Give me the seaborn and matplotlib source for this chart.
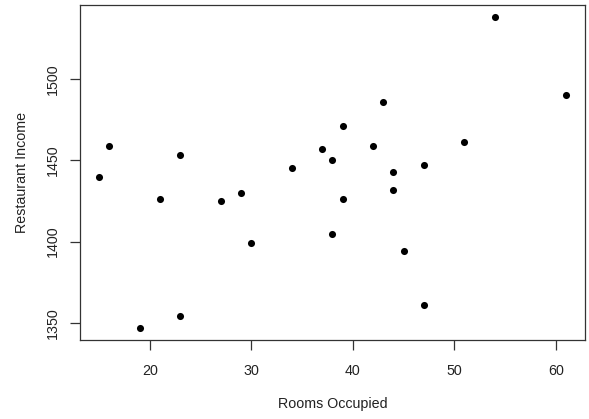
import matplotlib
matplotlib.use("Agg")
import matplotlib.pyplot as plt
import seaborn as sns
import pandas as pd

rooms = [15, 16, 19, 21, 23, 23, 27, 29, 30, 34, 37, 38, 38, 39, 39, 42, 43, 44, 44, 45, 47, 47, 51, 54, 61]
income = [1440, 1459, 1347, 1426, 1453, 1354, 1425, 1430, 1399, 1445, 1457, 1450, 1405, 1471, 1426, 1459, 1486, 1443, 1432, 1394, 1447, 1361, 1461, 1538, 1490]
x_ticks = [20, 30, 40, 50, 60]
y_ticks = [1350, 1400, 1450, 1500]

df = pd.DataFrame({"Rooms Occupied": rooms, "Restaurant Income": income})

sns.set_style("ticks")
plt.rcParams["font.family"] = ["Liberation Sans", "DejaVu Sans"]

fig = plt.figure(figsize=(5.89, 4.19), dpi=100)
ax = fig.add_axes([0.1363, 0.1878, 0.8564, 0.801])
sns.scatterplot(data=df, x="Rooms Occupied", y="Restaurant Income", ax=ax,
                color="black", s=26, linewidth=0)

xr = max(rooms) - min(rooms)
yr = max(income) - min(income)
ax.set_xlim(min(rooms) - 0.04 * xr, max(rooms) + 0.04 * xr)
ax.set_ylim(min(income) - 0.04 * yr, max(income) + 0.04 * yr)
ax.set_xticks(x_ticks)
ax.set_yticks(y_ticks)
ax.set_xticklabels([str(v) for v in x_ticks], fontsize=10.3, color="#222222")
ax.set_yticklabels([str(v) for v in y_ticks], fontsize=10.3, color="#222222",
                   rotation=90, va="center")
ax.tick_params(axis="both", direction="out", length=7, width=0.9, color="#333333")
ax.tick_params(axis="x", pad=10)
ax.tick_params(axis="y", pad=8)
for sp in ax.spines.values():
    sp.set_visible(True)
    sp.set_color("#333333")
    sp.set_linewidth(0.9)
ax.set_xlabel("Rooms Occupied", fontsize=10.3, color="#222222", labelpad=14)
ax.set_ylabel("Restaurant Income", fontsize=10.3, color="#222222", labelpad=12)

fig.savefig("out.png", dpi=100)
